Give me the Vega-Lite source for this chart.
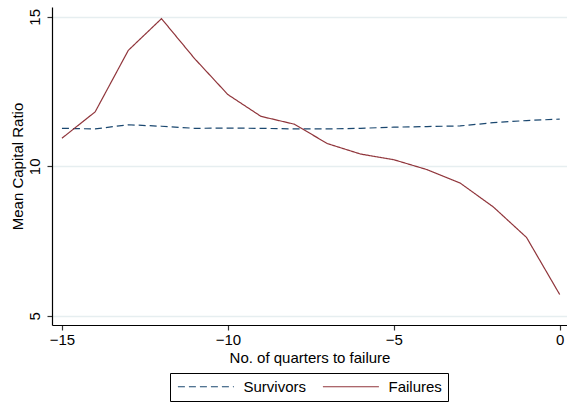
{
  "$schema": "https://vega.github.io/schema/vega-lite/v6.json",
  "width": 515,
  "height": 318,
  "autosize": "none",
  "padding": {"left": 52, "top": 7, "right": 0, "bottom": 81},
  "background": "white",
  "config": {
    "view": {"stroke": null},
    "font": "Liberation Sans",
    "axis": {
      "labelFont": "Liberation Sans",
      "titleFont": "Liberation Sans",
      "labelFontSize": 15,
      "titleFontSize": 15,
      "titleFontWeight": "normal",
      "labelColor": "black",
      "titleColor": "black",
      "domainColor": "black",
      "domainWidth": 1.2,
      "tickColor": "#333333",
      "tickSize": 5,
      "tickWidth": 1.2
    },
    "legend": {
      "title": null,
      "orient": "none",
      "legendX": 118,
      "legendY": 366,
      "direction": "horizontal",
      "strokeColor": "black",
      "padding": 6,
      "symbolType": "M-1,0L9,0",
      "symbolSize": 125.44,
      "symbolStrokeWidth": 1.2,
      "labelFont": "Liberation Sans",
      "labelFontSize": 15,
      "labelColor": "black",
      "labelOffset": 52.5,
      "columnPadding": 13
    }
  },
  "data": {
    "values": [
      {"quarter": -15, "series": "Survivors", "ratio": 11.27},
      {"quarter": -14, "series": "Survivors", "ratio": 11.25},
      {"quarter": -13, "series": "Survivors", "ratio": 11.39},
      {"quarter": -12, "series": "Survivors", "ratio": 11.34},
      {"quarter": -11, "series": "Survivors", "ratio": 11.27},
      {"quarter": -10, "series": "Survivors", "ratio": 11.28},
      {"quarter": -9, "series": "Survivors", "ratio": 11.27},
      {"quarter": -8, "series": "Survivors", "ratio": 11.25},
      {"quarter": -7, "series": "Survivors", "ratio": 11.25},
      {"quarter": -6, "series": "Survivors", "ratio": 11.27},
      {"quarter": -5, "series": "Survivors", "ratio": 11.31},
      {"quarter": -4, "series": "Survivors", "ratio": 11.33},
      {"quarter": -3, "series": "Survivors", "ratio": 11.35},
      {"quarter": -2, "series": "Survivors", "ratio": 11.46},
      {"quarter": -1, "series": "Survivors", "ratio": 11.53},
      {"quarter": 0, "series": "Survivors", "ratio": 11.58},
      {"quarter": -15, "series": "Failures", "ratio": 10.94},
      {"quarter": -14, "series": "Failures", "ratio": 11.82},
      {"quarter": -13, "series": "Failures", "ratio": 13.88},
      {"quarter": -12, "series": "Failures", "ratio": 14.94},
      {"quarter": -11, "series": "Failures", "ratio": 13.6},
      {"quarter": -10, "series": "Failures", "ratio": 12.4},
      {"quarter": -9, "series": "Failures", "ratio": 11.67},
      {"quarter": -8, "series": "Failures", "ratio": 11.41},
      {"quarter": -7, "series": "Failures", "ratio": 10.76},
      {"quarter": -6, "series": "Failures", "ratio": 10.41},
      {"quarter": -5, "series": "Failures", "ratio": 10.22},
      {"quarter": -4, "series": "Failures", "ratio": 9.89},
      {"quarter": -3, "series": "Failures", "ratio": 9.44},
      {"quarter": -2, "series": "Failures", "ratio": 8.64},
      {"quarter": -1, "series": "Failures", "ratio": 7.62},
      {"quarter": 0, "series": "Failures", "ratio": 5.71}
    ]
  },
  "mark": {"type": "line", "strokeWidth": 1.2, "clip": true},
  "encoding": {
    "x": {
      "field": "quarter",
      "type": "quantitative",
      "title": "No. of quarters to failure",
      "scale": {"domain": [-15.3, 0.22], "nice": false, "zero": false},
      "axis": {
        "values": [-15, -10, -5, 0],
        "grid": false,
        "labelPadding": 2,
        "titlePadding": 3,
        "labelFlush": false
      }
    },
    "y": {
      "field": "ratio",
      "type": "quantitative",
      "title": "Mean Capital Ratio",
      "scale": {"domain": [4.69, 15.33], "nice": false, "zero": false},
      "axis": {
        "values": [5, 10, 15],
        "grid": true,
        "gridColor": "#e6eef0",
        "gridWidth": 1.5,
        "labelAngle": -90,
        "labelAlign": "center",
        "labelBaseline": "alphabetic",
        "labelPadding": 8,
        "titlePadding": 2,
        "labelFlush": false
      }
    },
    "color": {
      "field": "series",
      "type": "nominal",
      "scale": {"domain": ["Survivors", "Failures"], "range": ["#1a476f", "#90353b"]}
    },
    "strokeDash": {
      "field": "series",
      "type": "nominal",
      "scale": {"domain": ["Survivors", "Failures"], "range": [[7, 4], [1, 0]]}
    }
  }
}
